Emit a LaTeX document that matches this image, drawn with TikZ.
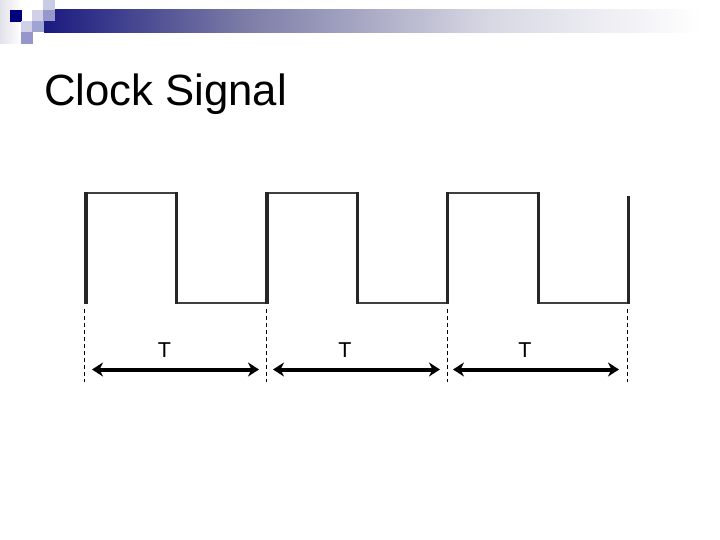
\documentclass[tikz,border=0pt]{standalone}
\usepackage{fontspec}
\setmainfont{Liberation Sans}
\usetikzlibrary{arrows.meta}
\definecolor{navy}{HTML}{00007E}
\definecolor{barstart}{HTML}{1A1A80}
\definecolor{barmid}{HTML}{7A7AA6}
\definecolor{barlight}{HTML}{D8D8E4}
\definecolor{sqa}{RGB}{200,204,228}
\definecolor{sqb}{RGB}{208,208,230}
\definecolor{sqc}{RGB}{150,152,204}
\definecolor{sqd}{RGB}{208,208,232}
\definecolor{sqe}{RGB}{160,164,210}
\definecolor{sqf}{RGB}{150,150,204}
\tikzset{
  wave/.style={line width=1.7pt,draw=black!75,line join=miter},
  waveup/.style={line width=3.1pt,draw=black!85},
  tick/.style={line width=0.9pt,dash pattern=on 4pt off 3pt,draw=black},
  span/.style={line width=4pt,draw=black,{Stealth[length=11pt,width=14pt,inset=3.5pt]}-{Stealth[length=11pt,width=14pt,inset=3.5pt]}},
  period/.style={font=\fontsize{21.5}{24}\selectfont,anchor=base,inner sep=0pt},
  sq/.style={fill=#1,draw=none}
}
\begin{document}
\begin{tikzpicture}[x=1pt,y=-1pt]
\useasboundingbox (0,0) rectangle (720,540);
% header decoration
\shade[left color=barlight!75,right color=white] (0,0) rectangle (21,44);
\shade[left color=barstart,right color=barmid] (44,10) rectangle (240,33);
\shade[left color=barmid,right color=barlight] (240,10) rectangle (490,33);
\shade[left color=barlight,right color=white] (490,10) rectangle (700,33);
\fill[sq=navy] (10,10) rectangle (22,22);
\fill[sq=sqa] (43,0) rectangle (55,10);
\fill[sq=sqb] (32,10) rectangle (43,21);
\fill[sq=sqc] (43,10) rectangle (55,21);
\fill[sq=sqd] (21,21) rectangle (32,32);
\fill[sq=sqe] (32,21) rectangle (44,32);
\fill[sq=sqf] (21,32) rectangle (33,44);
% title
\node[font=\fontsize{43.7}{48}\selectfont,anchor=base west,inner sep=0pt] (title) at (44,106) {Clock Signal};
% waveform
\draw[wave] (86,193.3) -- (176,193.3) (176,303.3) -- (267,303.3) (267,193.3) -- (357,193.3) (357,303.3) -- (447,303.3) (447,193.3) -- (538,193.3) (538,303.3) -- (628,303.3);
\draw[waveup] (86,303.5) -- (86,192.5) (176.5,192.5) -- (176.5,304) (267,304) -- (267,192.5) (357.5,192.5) -- (357.5,304) (447.5,304) -- (447.5,192.5) (538.5,192.5) -- (538.5,304) (628.5,304) -- (628.5,195.7);
% dashed ticks
\foreach \n/\x in {a/84.5,b/266,c/447,d/627}{
  \coordinate (\n top) at (\x,309);
  \coordinate (\n bot) at (\x,382);
  \draw[tick] (\n top) -- (\n bot);
}
% spans
\coordinate (s1l) at (92,369.5);  \coordinate (s1r) at (259,369.5);
\coordinate (s2l) at (273,369.5); \coordinate (s2r) at (440,369.5);
\coordinate (s3l) at (453,369.5); \coordinate (s3r) at (619,369.5);
\draw[span] (s1l) -- (s1r);
\draw[span] (s2l) -- (s2r);
\draw[span] (s3l) -- (s3r);
\node[period] (t1) at (164.5,357) {T};
\node[period] (t2) at (345,357) {T};
\node[period] (t3) at (525,357) {T};
\end{tikzpicture}
\end{document}
